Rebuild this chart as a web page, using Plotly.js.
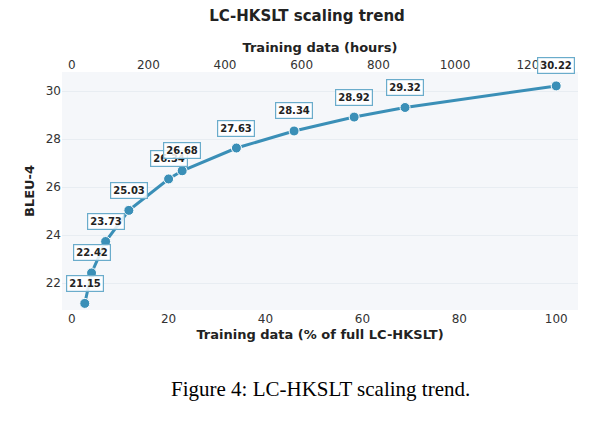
<!DOCTYPE html>
<html><head><meta charset="utf-8">
<script src="https://cdn.plot.ly/plotly-3.0.1.min.js"></script>
<style>body{margin:0;background:#fff}#c{width:614px;height:430px}</style>
</head><body><div id="c"></div>
<script>
const pct = [2.7, 4.1, 7, 11.8, 20, 22.8, 34, 45.9, 58.3, 68.8, 100];
const bleu = [21.15, 22.42, 23.73, 25.03, 26.34, 26.68, 27.63, 28.34, 28.92, 29.32, 30.22];
const hoursPerPct = 12.64;
const color = '#3a8fb7';
const ann = pct.map((x,i)=>({x:x,y:bleu[i],xref:'x',yref:'y',text:'<b>'+bleu[i].toFixed(2)+'</b>',
  showarrow:false,yshift:20,bgcolor:'rgba(255,255,255,0.85)',bordercolor:'#6aaccb',borderwidth:1.2,borderpad:2,
  font:{size:10,color:'#222',family:'DejaVu Sans'}}));
ann.push({xref:'paper',yref:'paper',x:0.5,y:-0.39,xanchor:'center',showarrow:false,
  text:'Figure 4: LC-HKSLT scaling trend.',font:{family:'Liberation Serif',size:21,color:'#000'}});
Plotly.newPlot('c',[
 {x:pct,y:bleu,mode:'lines+markers',line:{color:color,width:3},marker:{size:10,color:color,line:{color:'#fff',width:1}},hoverinfo:'none'},
 {x:[0],y:[null],xaxis:'x2',showlegend:false}
],{
 width:614,height:430,showlegend:false,
 margin:{l:62,r:36,t:72,b:120},
 paper_bgcolor:'#fff',plot_bgcolor:'#f5f7fa',
 title:{text:'<b>LC-HKSLT scaling trend</b>',x:0.5,xanchor:'center',y:0.975,yanchor:'top',font:{size:15,family:'DejaVu Sans',color:'#222'}},
 xaxis:{range:[-2,104.5],tickvals:[0,20,40,60,80,100],showgrid:false,zeroline:false,showline:false,
   tickfont:{size:12,family:'DejaVu Sans',color:'#333'},
   title:{text:'<b>Training data (% of full LC-HKSLT)</b>',standoff:4,font:{size:13,family:'DejaVu Sans',color:'#222'}}},
 xaxis2:{overlaying:'x',side:'top',range:[-2*hoursPerPct,104.5*hoursPerPct],tickvals:[0,200,400,600,800,1000,1200],
   showgrid:false,zeroline:false,tickfont:{size:12,family:'DejaVu Sans',color:'#333'},
   title:{text:'<b>Training data (hours)</b>',standoff:2,font:{size:13,family:'DejaVu Sans',color:'#222'}}},
 yaxis:{range:[20.875,30.8],tickvals:[22,24,26,28,30],showgrid:true,gridcolor:'#e8edf2',zeroline:false,
   tickfont:{size:12,family:'DejaVu Sans',color:'#333'},
   title:{text:'<b>BLEU-4</b>',standoff:8,font:{size:13,family:'DejaVu Sans',color:'#222'}}},
 annotations:ann
},{staticPlot:true});
</script></body></html>
